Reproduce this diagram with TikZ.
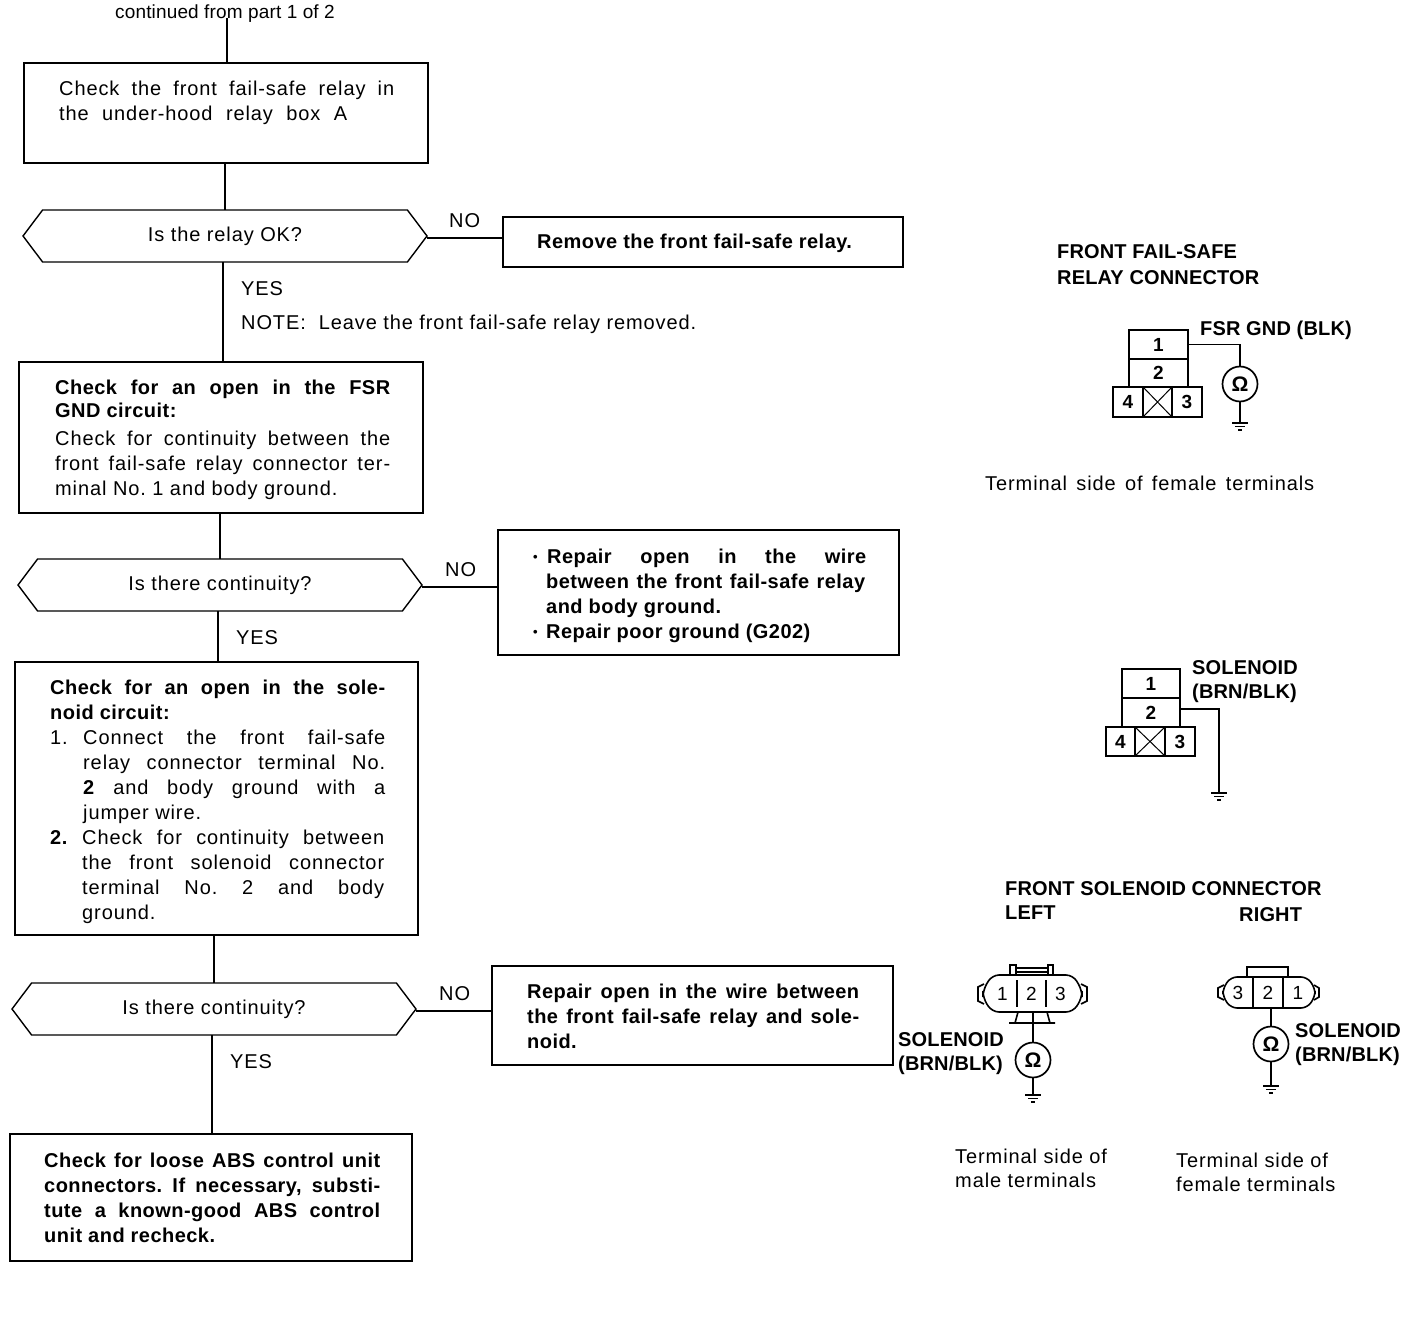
\documentclass[tikz,border=0pt]{standalone}
\usepackage{fontspec}
\setmainfont[LetterSpace=4.5,BoldFeatures={LetterSpace=2.3}]{Liberation Sans}
\newfontfamily\capsfont[LetterSpace=0.8,BoldFeatures={LetterSpace=0.8}]{Liberation Sans}
\usepackage{tikz}
\usetikzlibrary{shapes.symbols}
\newcommand{\jl}[2]{\makebox[#1pt][s]{#2}}
\newcommand{\bul}{\raisebox{2pt}{\fontsize{13}{13}\selectfont\textbullet}}
\tikzset{
  line/.style={draw=black, line width=1.6pt},
  wire/.style={draw=black, line width=1.6pt},
  box/.style={draw=black, line width=1.6pt, anchor=north west, inner sep=0pt, outer sep=0pt},
  decision/.style={signal, signal to=west and east, signal pointer angle=106, draw=black, line width=1.4pt,
    minimum width=404pt, minimum height=52pt, inner sep=0pt, outer sep=0pt, font=\fontsize{20}{24}\selectfont},
  lbl/.style={inner sep=0pt, anchor=west, font=\fontsize{20}{24}\selectfont},
  blk/.style={inner sep=0pt, anchor=north west, align=left, font=\fontsize{20}{25}\selectfont},
  bblk/.style={blk, font=\fontsize{20}{25}\selectfont\bfseries},
  blbl/.style={lbl, font=\fontsize{20}{25}\selectfont\capsfont\bfseries},
  cell/.style={draw=black, line width=1.6pt, inner sep=0pt, outer sep=0pt, anchor=north west, font=\fontsize{19}{20}\selectfont\bfseries},
  ohm/.style={circle, draw=black, line width=1.7pt, minimum size=35pt, inner sep=0pt, font=\fontsize{21}{21}\selectfont\bfseries},
  gndbar/.style={draw=black, line width=1.6pt}
}
\newcommand{\gnd}[2]{%
  \draw[gndbar] (#1-8,#2) -- (#1+8,#2);
  \draw[gndbar] (#1-5,#2+3.5) -- (#1+5,#2+3.5);
  \draw[gndbar] (#1-2,#2+7) -- (#1+2,#2+7);}
\begin{document}
\frenchspacing
\begin{tikzpicture}[x=1pt,y=-1pt]
  \useasboundingbox (0,0) rectangle (1424,1324);
  % flow chart
  \node[lbl, anchor=center, font=\fontsize{19}{20}\selectfont\capsfont] (cont) at (225,14) {continued from part 1 of 2};
  \node[box, minimum width=404pt, minimum height=100pt] (check) at (24,63) {};
  \node[decision] (relayok) at (225,236) {Is the relay OK?};
  \node[box, minimum width=400pt, minimum height=50pt] (remove) at (503,217) {};
  \node[box, minimum width=404pt, minimum height=151pt] (fsrgnd) at (19,362) {};
  \node[decision] (cont1) at (220,585) {Is there continuity?};
  \node[box, minimum width=401pt, minimum height=125pt] (repair1) at (498,530) {};
  \node[box, minimum width=403pt, minimum height=273pt] (solckt) at (15,662) {};
  \node[decision] (cont2) at (214,1009) {Is there continuity?};
  \node[box, minimum width=401pt, minimum height=99pt] (repair2) at (492,966) {};
  \node[box, minimum width=402pt, minimum height=127pt] (loose) at (10,1134) {};

  \coordinate (ctop) at (227,18);
  \draw[line] (ctop) -- (ctop |- check.north);
  \draw[line] (relayok.north) -- (relayok.north |- check.south);
  \draw[line] ([yshift=-2pt]relayok.east) -- ([yshift=-2pt]relayok.east -| remove.west);
  \draw[line] ([xshift=-2pt]relayok.south) -- ([xshift=-2pt]relayok.south |- fsrgnd.north);
  \draw[line] (cont1.north) -- (cont1.north |- fsrgnd.south);
  \draw[line] ([yshift=-2pt]cont1.east) -- ([yshift=-2pt]cont1.east -| repair1.west);
  \draw[line] ([xshift=-2pt]cont1.south) -- ([xshift=-2pt]cont1.south |- solckt.north);
  \draw[line] (cont2.north) -- (cont2.north |- solckt.south);
  \draw[line] ([yshift=-2pt]cont2.east) -- ([yshift=-2pt]cont2.east -| repair2.west);
  \draw[line] ([xshift=-2pt]cont2.south) -- ([xshift=-2pt]cont2.south |- loose.north);

  \node[lbl] (no1) at (449,221) {NO};
  \node[lbl] (no2) at (445,570) {NO};
  \node[lbl] (no3) at (439,994) {NO};
  \node[lbl] (yes1) at (241,289) {YES};
  \node[lbl] (yes2) at (236,638) {YES};
  \node[lbl] (yes3) at (230,1062) {YES};
  \node[lbl] (note) at (241,324) {NOTE:\ \ Leave the front fail-safe relay removed.};

  \node[blk] (checktxt) at (59,81) {\jl{335}{Check the front fail-safe relay in}\\\jl{288}{the under-hood relay box A}};
  \node[bblk, anchor=west] (removetxt) at (537,243) {Remove the front fail-safe relay.};
  \node[blk] (fsrtxt) at (55,380) {\textbf{\jl{335}{Check for an open in the FSR}}\\[-2pt]\textbf{GND circuit:}\\[3pt]\jl{335}{Check for continuity between the}\\\jl{335}{front fail-safe relay connector ter-}\\minal No. 1 and body ground.};
  \node[bblk] (rep1txt) at (533,549) {\makebox[14pt][l]{\bul}\jl{319}{Repair open in the wire}\\\hspace{13pt}\jl{319}{between the front fail-safe relay}\\\hspace{13pt}and body ground.\\\makebox[13pt][l]{\bul}Repair poor ground (G202)};
  \node[blk] (soltxt) at (50,680) {\textbf{\jl{335}{Check for an open in the sole-}}\\\textbf{noid circuit:}\\\makebox[33pt][l]{1.}\jl{302}{Connect the front fail-safe}\\\hspace{33pt}\jl{302}{relay connector terminal No.}\\\hspace{33pt}\jl{302}{\textbf{2} and body ground with a}\\\hspace{33pt}jumper wire.\\\makebox[32pt][l]{\textbf{2.}}\jl{302}{Check for continuity between}\\\hspace{32pt}\jl{302}{the front solenoid connector}\\\hspace{32pt}\jl{302}{terminal No. 2 and body}\\\hspace{32pt}ground.};
  \node[bblk] (rep2txt) at (527,984) {\jl{332}{Repair open in the wire between}\\\jl{332}{the front fail-safe relay and sole-}\\noid.};
  \node[bblk] (loosetxt) at (44,1153) {\jl{336}{Check for loose ABS control unit}\\\jl{336}{connectors. If necessary, substi-}\\\jl{336}{tute a known-good ABS control}\\unit and recheck.};

  % connector, FSR GND
  \node[blbl] (t1) at (1057,252) {FRONT FAIL-SAFE};
  \node[blbl] (t2) at (1057,278) {RELAY CONNECTOR};
  \node[blbl] (t3) at (1200,330) {FSR GND (BLK)};
  \node[cell, minimum width=59pt, minimum height=29pt] (a1) at (1129,330) {1};
  \node[cell, minimum width=59pt, minimum height=28pt] (a2) at (1129,359) {2};
  \node[cell, minimum width=30pt, minimum height=30pt] (a4) at (1113,387) {4};
  \node[cell, minimum width=29pt, minimum height=30pt] (ax) at (1143,387) {};
  \node[cell, minimum width=30pt, minimum height=30pt] (a3) at (1172,387) {3};
  \draw[line, line width=1pt] (ax.north west) -- (ax.south east) (ax.north east) -- (ax.south west);
  \node[ohm] (am) at (1240,384) {Ω};
  \coordinate (ag) at (1240,423);
  \draw[wire] (a1.east) -- (am.north |- a1.east) -- (am.north);
  \draw[wire] (am.south) -- (ag);
  \gnd{1240}{423}
  \node[lbl] (t4) at (985,483) {\jl{329}{Terminal side of female terminals}};

  % connector, solenoid
  \node[blbl] (s1) at (1192,668) {SOLENOID};
  \node[blbl] (s2) at (1192,693) {(BRN/BLK)};
  \node[cell, minimum width=58pt, minimum height=29pt] (b1) at (1122,669) {1};
  \node[cell, minimum width=58pt, minimum height=29pt] (b2) at (1122,698) {2};
  \node[cell, minimum width=29pt, minimum height=29pt] (b4) at (1106,727) {4};
  \node[cell, minimum width=30pt, minimum height=29pt] (bx) at (1135,727) {};
  \node[cell, minimum width=30pt, minimum height=29pt] (b3) at (1165,727) {3};
  \draw[line, line width=1pt] (bx.north west) -- (bx.south east) (bx.north east) -- (bx.south west);
  \coordinate (bg) at (1219,793);
  \draw[wire] ([yshift=3.5pt]b2.east) -- ([yshift=3.5pt]bg |- b2.east) -- (bg);
  \gnd{1219}{793}

  % front solenoid connector
  \node[blbl] (f1) at (1005,889) {FRONT SOLENOID CONNECTOR};
  \node[blbl] (f2) at (1005,913) {LEFT};
  \node[blbl] (f3) at (1239,915) {RIGHT};

  % left connector
  \draw[line] (1010,975) -- (1010,965) -- (1016,965) -- (1016,975);
  \draw[line] (1048,975) -- (1048,965) -- (1053,965) -- (1053,975);
  \draw[line] (1016,968) -- (1048,968) (1016,972) -- (1048,972);
  \draw[line, fill=white, rounded corners=7pt] (992,975) -- (1073,975) -- (1082,990) -- (1082,998) -- (1073,1012) -- (992,1012) -- (983,998) -- (983,990) -- cycle;
  \draw[line] (984,984) -- (978,987) -- (978,1001) -- (984,1004);
  \draw[line] (1081,984) -- (1087,987) -- (1087,1001) -- (1081,1004);
  \node[cell, draw=none, minimum width=29pt, minimum height=27pt] (l1) at (988,980) {\mdseries 1};
  \node[cell, draw=none, minimum width=29pt, minimum height=27pt] (l2) at (1017,980) {\mdseries 2};
  \node[cell, draw=none, minimum width=29pt, minimum height=27pt] (l3) at (1046,980) {\mdseries 3};
  \draw[line, line width=1.2pt] (l2.north west) -- (l2.south west) (l3.north west) -- (l3.south west);
  \draw[line] (1018,1012) -- (1015,1023) (1047,1012) -- (1050,1023) (1009,1023) -- (1055,1023);
  \node[ohm] (lm) at (1033,1060) {Ω};
  \coordinate (lt) at (1033,1012);
  \coordinate (lg) at (1033,1095);
  \draw[wire] (lt) -- (lm.north);
  \draw[wire] (lm.south) -- (lg);
  \gnd{1033}{1095}
  \node[blbl] (l4) at (898,1040) {SOLENOID};
  \node[blbl] (l5) at (898,1065) {(BRN/BLK)};
  \node[lbl, anchor=north west, align=left] (l6) at (955,1149) {Terminal side of\\male terminals};

  % right connector
  \draw[line] (1247,977) -- (1247,967) -- (1288,967) -- (1288,977);
  \draw[line, fill=white, rounded corners=6pt] (1231,977) -- (1307,977) -- (1315,988) -- (1315,997) -- (1307,1008) -- (1231,1008) -- (1223,997) -- (1223,988) -- cycle;
  \draw[line] (1224,985) -- (1218,988) -- (1218,997) -- (1224,1000);
  \draw[line] (1314,985) -- (1319,988) -- (1319,997) -- (1314,1000);
  \node[cell, draw=none, minimum width=30pt, minimum height=31pt] (r3) at (1223,977) {\mdseries 3};
  \node[cell, draw=none, minimum width=30pt, minimum height=31pt] (r2) at (1253,977) {\mdseries 2};
  \node[cell, draw=none, minimum width=30pt, minimum height=31pt] (r1) at (1283,977) {\mdseries 1};
  \draw[line, line width=1.2pt] (r2.north west) -- (r2.south west) (r1.north west) -- (r1.south west);
  \node[ohm] (rm) at (1271,1044) {Ω};
  \coordinate (rt) at (1271,1008);
  \coordinate (rg) at (1271,1086);
  \draw[wire] (rt) -- (rm.north);
  \draw[wire] (rm.south) -- (rg);
  \gnd{1271}{1086}
  \node[blbl] (r4) at (1295,1031) {SOLENOID};
  \node[blbl] (r5) at (1295,1056) {(BRN/BLK)};
  \node[lbl, anchor=north west, align=left] (r6) at (1176,1153) {Terminal side of\\female terminals};
\end{tikzpicture}
\end{document}
